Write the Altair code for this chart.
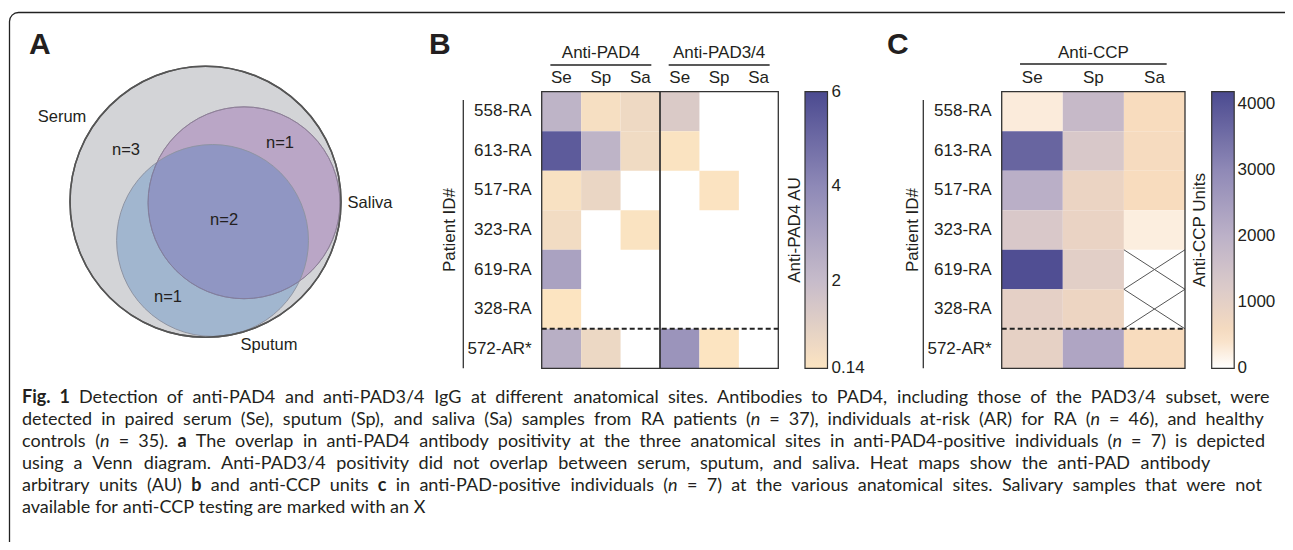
import glob
import math
import struct

import altair as alt
import pandas as pd

# ---------------- data ----------------
PATIENTS = ["558-RA", "613-RA", "517-RA", "323-RA", "619-RA", "328-RA", "572-AR*"]
SITES = ["Se", "Sp", "Sa"]
PAD_GROUPS = ["Anti-PAD4", "Anti-PAD3/4"]

# Anti-PAD4 AU (None = negative, left blank)
PAD4_SE = [2.3, 5.45, 0.27, 0.49, 3.0, 0.15, 2.5]
PAD4_SP = [0.35, 2.3, 0.76, None, None, None, 0.7]
PAD4_SA = [0.62, 0.55, None, 0.2, None, None, None]
PAD34_SE = [1.3, 0.2, None, None, None, None, 3.55]
PAD34_SP = [None, None, 0.18, None, None, None, 0.15]
PAD34_SA = [None, None, None, None, None, None, None]

# Anti-CCP units (None = saliva sample not available)
CCP_SE = [280, 3680, 2050, 1280, 4100, 980, 960]
CCP_SP = [1750, 1300, 820, 860, 1050, 780, 2290]
CCP_SA = [500, 550, 500, 245, None, None, 500]

B_TICKS = [0.14, 2, 4, 6]
B_TICK_LABELS = ["0.14", "2", "4", "6"]
C_TICKS = [0, 1000, 2000, 3000, 4000]
C_TICK_LABELS = ["0", "1000", "2000", "3000", "4000"]

VENN_SETS = ["Serum", "Saliva", "Sputum"]
VENN_COUNTS = [3, 1, 2, 1]   # serum only, serum+saliva, all three, serum+sputum

CAPTION = [
    [("Fig. 1", "bold"), (" Detection of anti-PAD4 and anti-PAD3/4 IgG at different anatomical sites. Antibodies to PAD4, including those of the PAD3/4 subset, were", "normal")],
    [("detected in paired serum (Se), sputum (Sp), and saliva (Sa) samples from RA patients (", "normal"), ("n", "italic"),
     (" = 37), individuals at-risk (AR) for RA (", "normal"), ("n", "italic"), (" = 46), and healthy", "normal")],
    [("controls (", "normal"), ("n", "italic"), (" = 35). ", "normal"), ("a", "bold"),
     (" The overlap in anti-PAD4 antibody positivity at the three anatomical sites in anti-PAD4-positive individuals (", "normal"),
     ("n", "italic"), (" = 7) is depicted", "normal")],
    [("using a Venn diagram. Anti-PAD3/4 positivity did not overlap between serum, sputum, and saliva. Heat maps show the anti-PAD antibody", "normal")],
    [("arbitrary units (AU) ", "normal"), ("b", "bold"), (" and anti-CCP units ", "normal"), ("c", "bold"),
     (" in anti-PAD-positive individuals (", "normal"), ("n", "italic"),
     (" = 7) at the various anatomical sites. Salivary samples that were not", "normal")],
    [("available for anti-CCP testing are marked with an X", "normal")],
]

# ---------------- layout (page pixels) ----------------
OFF = 8
W, H = 1277, 534


def P(v):
    return v - OFF


FONT = "Liberation Sans"
CAP_FONT = "Lato"
CAP_FS = 18
INK = "#231f20"
FS = 17

Y0, Y1 = 91.7, 368.3
BX0, BX1 = 541.7, 778.3
CX0, CX1 = 1001.7, 1185.0

CAP_X0 = 22
CAP_ENDS = [1270, 1264, 1265, 1210, 1262, None]   # justified line ends (None = ragged last line)
CAP_Y = [398, 508]

dummy = pd.DataFrame({"k": [0]})


# ---------- text measuring from the installed font files (for justification) ----------
def parse_ttf(path):
    data = open(path, "rb").read()
    ntab = struct.unpack(">H", data[4:6])[0]
    tabs = {}
    for i in range(ntab):
        o = 12 + 16 * i
        tag = data[o:o + 4].decode("latin1")
        _, toff, tlen = struct.unpack(">III", data[o + 4:o + 16])
        tabs[tag] = toff
    upem = struct.unpack(">H", data[tabs["head"] + 18:tabs["head"] + 20])[0]
    nhm = struct.unpack(">H", data[tabs["hhea"] + 34:tabs["hhea"] + 36])[0]
    hm = tabs["hmtx"]
    adv = [struct.unpack(">H", data[hm + 4 * i:hm + 4 * i + 2])[0] for i in range(nhm)]
    cm = tabs["cmap"]
    n = struct.unpack(">H", data[cm + 2:cm + 4])[0]
    sub = None
    for i in range(n):
        pid, eid, off = struct.unpack(">HHI", data[cm + 4 + 8 * i:cm + 12 + 8 * i])
        fmt = struct.unpack(">H", data[cm + off:cm + off + 2])[0]
        if fmt == 4 and pid in (0, 3):
            sub = cm + off
            break
    segx2 = struct.unpack(">H", data[sub + 6:sub + 8])[0]
    segs = segx2 // 2
    ends = struct.unpack(">%dH" % segs, data[sub + 14:sub + 14 + segx2])
    starts = struct.unpack(">%dH" % segs, data[sub + 16 + segx2:sub + 16 + 2 * segx2])
    deltas = struct.unpack(">%dh" % segs, data[sub + 16 + 2 * segx2:sub + 16 + 3 * segx2])
    rpos = sub + 16 + 3 * segx2
    roffs = struct.unpack(">%dH" % segs, data[rpos:rpos + segx2])

    def gid(c):
        for i in range(segs):
            if ends[i] >= c:
                if starts[i] > c:
                    return 0
                if roffs[i] == 0:
                    return (c + deltas[i]) & 0xFFFF
                a = rpos + 2 * i + roffs[i] + 2 * (c - starts[i])
                g = struct.unpack(">H", data[a:a + 2])[0]
                return (g + deltas[i]) & 0xFFFF if g else 0
        return 0

    def width(s, size):
        return sum(adv[min(gid(ord(ch)), nhm - 1)] for ch in s) * size / upem

    return width


def find_measure(name):
    for pat in ["/usr/share/fonts/**/%s" % name, "/usr/local/share/fonts/**/%s" % name,
                "/root/.fonts/**/%s" % name, "/usr/share/fonts/**/%s" % name.lower()]:
        for path in glob.glob(pat, recursive=True):
            try:
                f = parse_ttf(path)
                f("a", 10)
                return f
            except Exception:
                pass
    return lambda s, size: 0.49 * size * len(s)


MEASURE = {"normal": find_measure("Lato-Regular.ttf"),
           "bold": find_measure("Lato-Bold.ttf"),
           "italic": find_measure("Lato-Italic.ttf")}


def layout_line(runs, x0, x_end):
    pieces = []  # (text, style) or (" ", None)
    for text, style in runs:
        parts = text.split(" ")
        for j, part in enumerate(parts):
            if j > 0:
                pieces.append((" ", None))
            if part:
                pieces.append((part, style))
    widths = [MEASURE["normal"](" ", CAP_FS) if st is None else MEASURE[st](t, CAP_FS) for t, st in pieces]
    nsp = sum(1 for t, st in pieces if st is None)
    extra = 0.0
    if x_end is not None and nsp:
        extra = max(0.0, (x_end - x0 - sum(widths)) / nsp)
    x = x0
    out = []
    for (t, st), w in zip(pieces, widths):
        if st is None:
            x += w + extra
        else:
            out.append({"t": t, "style": st, "x": P(x)})
            x += w
    return out


def band(domain, a, b):
    return alt.Scale(type="band", domain=domain, range=[P(a), P(b)], paddingInner=0, paddingOuter=0)


def lin(domain, a, b):
    return alt.Scale(type="linear", domain=domain, range=[P(a), P(b)], zero=False, nice=False)


B_COLS = [f"{g} {s}" for g in PAD_GROUPS for s in SITES]
C_COLS = SITES
yband = band(PATIENTS, Y0, Y1)
yidx = lin([0, len(PATIENTS)], Y0, Y1)
bidx = lin([0, len(B_COLS)], BX0, BX1)
cidx = lin([0, len(C_COLS)], CX0, CX1)
sep_row = PATIENTS.index("572-AR*")

pad_scale = alt.Scale(domain=[0.14, 2, 4, 6], range=["#fce4c1", "#c6bbca", "#8e89b7", "#4b4a90"],
                      interpolate="rgb")
ccp_scale = alt.Scale(domain=[0, 500, 1200, 2000, 3000, 4180],
                      range=["#ffffff", "#f8dcbe", "#dccbc9", "#bcb1c8", "#8f89b6", "#4b4a90"],
                      interpolate="rgb")

layers = []

# outer frame
layers.append(alt.Chart(dummy).mark_rect(fillOpacity=0, stroke="#222", strokeWidth=1.3, cornerRadius=9).encode(
    x=alt.value(P(9.5)), x2=alt.value(W + 40), y=alt.value(P(12.5)), y2=alt.value(H + 40)))

# panel letters
letters = pd.DataFrame({"t": ["A", "B", "C"], "x": [P(29), P(429), P(887)]})
layers.append(alt.Chart(letters).mark_text(align="left", baseline="alphabetic", font=FONT, fontSize=30,
                                           fontWeight="bold", color=INK).encode(
    x=alt.X("x:Q", scale=None), y=alt.value(P(53.5)), text="t:N"))

# ---------------- Venn (A) ----------------
vx = lin([-1, 1], 70, 341)
vy = lin([-1, 1], 66.2, 337.2)
vr = alt.Scale(type="linear", domain=[0, 1], range=[0, 135.5], zero=True)
venn_geo = pd.DataFrame({"set": VENN_SETS, "cx": [0, 0.284, 0.052], "cy": [0, 0.008, 0.286],
                         "r": [1, 0.708, 0.708]})


def circle(name, **kw):
    return alt.Chart(venn_geo).transform_filter(alt.datum.set == name).mark_arc(
        theta=0, theta2=2 * math.pi, **kw).encode(
        x=alt.X("cx:Q", scale=vx, axis=None), y=alt.Y("cy:Q", scale=vy, axis=None),
        radius=alt.Radius("r:Q", scale=vr))


layers.append(circle("Serum", fill="#d3d4d7", stroke="#555", strokeWidth=1.5))
layers.append(circle("Saliva", fill="#baa6c6", stroke="#8d7f97", strokeWidth=1))
layers.append(circle("Sputum", fill="#3877bf", fillOpacity=0.32, stroke="#8e94a3", strokeWidth=1))
layers.append(circle("Saliva", fillOpacity=0, stroke="#8d7f97", strokeWidth=1, strokeOpacity=0.7))
layers.append(circle("Serum", fillOpacity=0, stroke="#555", strokeWidth=1.5))

venn_txt = pd.DataFrame({
    "t": ["Serum", "Saliva", "Sputum"] + [f"n={c}" for c in VENN_COUNTS],
    "x": [-1.059, 1.214, 0.469, -0.587, 0.55, 0.137, -0.277],
    "y": [-0.625, 0.01, 1.058, -0.382, -0.433, 0.135, 0.703],
})
layers.append(alt.Chart(venn_txt).mark_text(font=FONT, fontSize=16.5, color=INK, baseline="middle").encode(
    x=alt.X("x:Q", scale=vx, axis=None), y=alt.Y("y:Q", scale=vy, axis=None), text="t:N"))

# ---------------- Heat map B ----------------
rows = []
for g, series in zip(PAD_GROUPS, [[PAD4_SE, PAD4_SP, PAD4_SA], [PAD34_SE, PAD34_SP, PAD34_SA]]):
    for s, vals in zip(SITES, series):
        for p, v in zip(PATIENTS, vals):
            if v is not None:
                rows.append({"patient": p, "col": f"{g} {s}", "value": v})
dfB = pd.DataFrame(rows)


def grad_legend(x):
    return alt.Legend(orient="none", legendX=P(x), legendY=P(Y0), direction="vertical",
                      gradientLength=Y1 - Y0, gradientThickness=22.5, labelExpr="''", labelFontSize=1,
                      gradientStrokeColor="#333", gradientStrokeWidth=1.2, padding=0)


layers.append(alt.Chart(dfB).mark_rect().encode(
    x=alt.X("col:N", scale=band(B_COLS, BX0, BX1), axis=None),
    y=alt.Y("patient:N", scale=yband, axis=None),
    color=alt.Color("value:Q", scale=pad_scale, title=None, legend=grad_legend(805)),
))

ns = len(SITES)
boxB = pd.DataFrame({"s": [i * ns for i in range(len(PAD_GROUPS))], "e": [(i + 1) * ns for i in range(len(PAD_GROUPS))],
                     "t": [0] * len(PAD_GROUPS), "b": [len(PATIENTS)] * len(PAD_GROUPS)})
layers.append(alt.Chart(boxB).mark_rect(fillOpacity=0, stroke="#333", strokeWidth=1.3).encode(
    x=alt.X("s:Q", scale=bidx, axis=None), x2="e:Q", y=alt.Y("t:Q", scale=yidx, axis=None), y2="b:Q"))
layers.append(alt.Chart(pd.DataFrame({"s": [0], "e": [len(B_COLS)], "y": [sep_row]})).mark_rule(
    strokeDash=[5, 3], strokeWidth=2, color="#222").encode(
    x=alt.X("s:Q", scale=bidx, axis=None), x2="e:Q", y=alt.Y("y:Q", scale=yidx, axis=None)))

gB = pd.DataFrame({"t": PAD_GROUPS, "c": [i * ns + ns / 2 for i in range(len(PAD_GROUPS))],
                   "s": [i * ns + 0.22 for i in range(len(PAD_GROUPS))],
                   "e": [(i + 1) * ns - 0.22 for i in range(len(PAD_GROUPS))]})
layers.append(alt.Chart(gB).mark_text(font=FONT, fontSize=FS, color=INK, baseline="middle").encode(
    x=alt.X("c:Q", scale=bidx, axis=None), y=alt.value(P(53)), text="t:N"))
layers.append(alt.Chart(gB).mark_rule(color="#222", strokeWidth=1.3).encode(
    x=alt.X("s:Q", scale=bidx, axis=None), x2="e:Q", y=alt.value(P(65))))
layers.append(alt.Chart(pd.DataFrame({"col": B_COLS, "site": SITES * len(PAD_GROUPS)})).mark_text(
    font=FONT, fontSize=FS, color=INK, baseline="middle").encode(
    x=alt.X("col:N", scale=band(B_COLS, BX0, BX1), axis=None), y=alt.value(P(77.5)), text="site:N"))


def row_block(xlab, xtitle, xline):
    out = []
    out.append(alt.Chart(pd.DataFrame({"patient": PATIENTS})).mark_text(
        align="right", baseline="middle", font=FONT, fontSize=FS, color=INK).encode(
        y=alt.Y("patient:N", scale=yband, axis=None), x=alt.value(P(xlab)), text="patient:N"))
    out.append(alt.Chart(dummy).mark_text(angle=270, baseline="middle", font=FONT, fontSize=FS, color=INK,
                                          text="Patient ID#").encode(
        x=alt.value(P(xtitle)), y=alt.value(P(230))))
    out.append(alt.Chart(dummy).mark_rule(color="#333", strokeWidth=1.3).encode(
        x=alt.value(P(xline)), y=alt.value(P(100)), y2=alt.value(P(Y1))))
    return out


def colorbar(ticks, labels, dom, x0, x1, xtitle, title):
    out = []
    ys = lin(dom, Y1, Y0)
    d = pd.DataFrame({"v": ticks, "lab": labels})
    out.append(alt.Chart(d).mark_text(align="left", baseline="middle", font=FONT, fontSize=FS, color=INK).encode(
        y=alt.Y("v:Q", scale=ys, axis=None), x=alt.value(P(x1 + 4)), text="lab:N"))
    out.append(alt.Chart(d).mark_rule(color="#333", strokeWidth=1).encode(
        y=alt.Y("v:Q", scale=ys, axis=None), x=alt.value(P(x1 - 3.5)), x2=alt.value(P(x1))))
    out.append(alt.Chart(d).mark_rule(color="#333", strokeWidth=1).encode(
        y=alt.Y("v:Q", scale=ys, axis=None), x=alt.value(P(x0)), x2=alt.value(P(x0 + 3.5))))
    out.append(alt.Chart(dummy).mark_text(angle=270, baseline="middle", font=FONT, fontSize=FS, color=INK,
                                          text=title).encode(x=alt.value(P(xtitle)), y=alt.value(P(230))))
    return out


layers += row_block(531.7, 450, 463.3)
layers += colorbar(B_TICKS, B_TICK_LABELS, [0.14, 6], 805, 827.5, 795, "Anti-PAD4 AU")

# ---------------- Heat map C ----------------
rowsC = []
na_cells = []
for ci, (s, vals) in enumerate(zip(SITES, [CCP_SE, CCP_SP, CCP_SA])):
    for ri, (p, v) in enumerate(zip(PATIENTS, vals)):
        if v is None:
            na_cells.append({"x": ci, "x2": ci + 1, "y": ri, "y2": ri + 1})
            na_cells.append({"x": ci, "x2": ci + 1, "y": ri + 1, "y2": ri})
        else:
            rowsC.append({"patient": p, "col": s, "value": v})
dfC = pd.DataFrame(rowsC)

layers.append(alt.Chart(dfC).mark_rect().encode(
    x=alt.X("col:N", scale=band(C_COLS, CX0, CX1), axis=None),
    y=alt.Y("patient:N", scale=yband, axis=None),
    color=alt.Color("value:Q", scale=ccp_scale, title=None, legend=grad_legend(1211.7)),
))
layers.append(alt.Chart(pd.DataFrame(na_cells)).mark_rule(color="#555", strokeWidth=1).encode(
    x=alt.X("x:Q", scale=cidx, axis=None), x2="x2:Q",
    y=alt.Y("y:Q", scale=yidx, axis=None), y2="y2:Q"))
layers.append(alt.Chart(pd.DataFrame({"s": [0], "e": [len(C_COLS)], "t": [0], "b": [len(PATIENTS)]})).mark_rect(
    fillOpacity=0, stroke="#333", strokeWidth=1.3).encode(
    x=alt.X("s:Q", scale=cidx, axis=None), x2="e:Q", y=alt.Y("t:Q", scale=yidx, axis=None), y2="b:Q"))
layers.append(alt.Chart(pd.DataFrame({"s": [0], "e": [len(C_COLS)], "y": [sep_row]})).mark_rule(
    strokeDash=[5, 3], strokeWidth=2, color="#222").encode(
    x=alt.X("s:Q", scale=cidx, axis=None), x2="e:Q", y=alt.Y("y:Q", scale=yidx, axis=None)))
gC = pd.DataFrame({"t": ["Anti-CCP"], "c": [ns / 2], "s": [0.3], "e": [ns - 0.3]})
layers.append(alt.Chart(gC).mark_text(font=FONT, fontSize=FS, color=INK, baseline="middle").encode(
    x=alt.X("c:Q", scale=cidx, axis=None), y=alt.value(P(53)), text="t:N"))
layers.append(alt.Chart(gC).mark_rule(color="#222", strokeWidth=1.3).encode(
    x=alt.X("s:Q", scale=cidx, axis=None), x2="e:Q", y=alt.value(P(64))))
layers.append(alt.Chart(pd.DataFrame({"col": C_COLS})).mark_text(
    font=FONT, fontSize=FS, color=INK, baseline="middle").encode(
    x=alt.X("col:N", scale=band(C_COLS, CX0, CX1), axis=None), y=alt.value(P(77.5)), text="col:N"))

layers += row_block(991.7, 913, 923.3)
layers += colorbar(C_TICKS, C_TICK_LABELS, [0, 4180], 1211.7, 1233.5, 1200, "Anti-CCP Units")

# ---------------- caption (justified) ----------------
seg = []
for li, (runs, xe) in enumerate(zip(CAPTION, CAP_ENDS)):
    for piece in layout_line(runs, CAP_X0, xe):
        piece["line"] = li
        seg.append(piece)
cap = pd.DataFrame(seg)
capy = lin([0, len(CAPTION) - 1], CAP_Y[0], CAP_Y[1])
STYLE = {"normal": dict(fontWeight="normal", fontStyle="normal"),
         "bold": dict(fontWeight="bold", fontStyle="normal"),
         "italic": dict(fontWeight="normal", fontStyle="italic")}
for st, kw in STYLE.items():
    layers.append(alt.Chart(cap).transform_filter(alt.datum.style == st).mark_text(
        align="left", baseline="middle", font=CAP_FONT, fontSize=CAP_FS, color=INK, **kw).encode(
        x=alt.X("x:Q", scale=None), y=alt.Y("line:Q", scale=capy, axis=None), text="t:N"))

chart = alt.layer(*layers).resolve_scale(
    x="independent", y="independent", color="independent", radius="independent"
).properties(
    width=W, height=H, padding=0, autosize=alt.AutoSizeParams(type="none"), background="white"
).configure_view(stroke=None)

chart.save("out.html", embed_options={"renderer": "svg", "actions": False})
